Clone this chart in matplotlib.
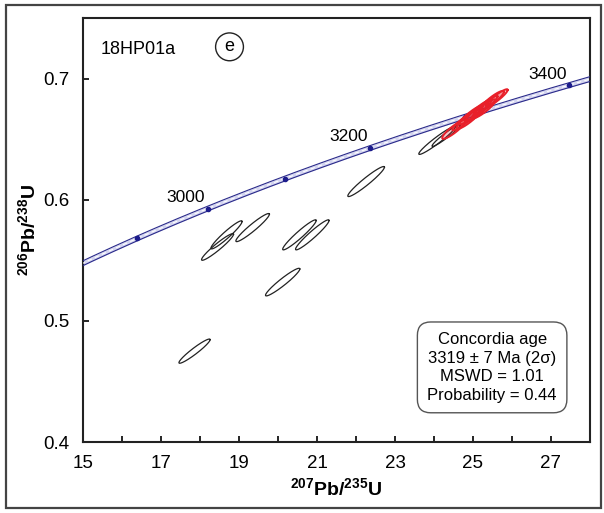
import numpy as np
import matplotlib.pyplot as plt
from matplotlib.patches import Rectangle

plt.rcParams['font.family'] = ['Liberation Sans', 'DejaVu Sans']
plt.rcParams['mathtext.default'] = 'regular'

# decay constants (1/yr) for the concordia curve
lam238 = 1.55125e-10
lam235 = 9.8485e-10
age_ticks = [2900, 3000, 3100, 3200, 3300, 3400]
age_labels = [3000, 3200, 3400]

# discordant analyses (black): 207Pb/235U, half-width, 206Pb/238U, half-height, rho
blk_x = [22.26, 18.68, 18.45, 19.35, 20.55, 20.88, 20.12, 17.86, 24.08, 24.31]
blk_dx = [0.47, 0.40, 0.41, 0.43, 0.43, 0.43, 0.44, 0.40, 0.47, 0.36]
blk_y = [0.615, 0.571, 0.561, 0.577, 0.571, 0.571, 0.532, 0.475, 0.649, 0.653]
blk_dy = [0.0124, 0.0116, 0.011, 0.0116, 0.0124, 0.0124, 0.0114, 0.010, 0.0116, 0.009]
blk_rho = [0.955, 0.95, 0.95, 0.95, 0.955, 0.955, 0.95, 0.95, 0.96, 0.96]

# concordant analyses (red)
red_x = [24.51, 24.77, 24.90, 24.95, 25.10, 25.15, 25.28, 25.33, 25.49, 25.61]
red_dx = [0.30, 0.30, 0.32, 0.30, 0.30, 0.32, 0.30, 0.30, 0.30, 0.28]
red_y = [0.658, 0.665, 0.667, 0.670, 0.672, 0.674, 0.675, 0.678, 0.682, 0.684]
red_dy = [0.0078, 0.0078, 0.0085, 0.0078, 0.0078, 0.0085, 0.0078, 0.0078, 0.0078, 0.0072]
red_rho = [0.90, 0.92, 0.90, 0.92, 0.90, 0.92, 0.90, 0.92, 0.90, 0.92]

box_lines = ["Concordia age", "3319 \u00b1 7 Ma (2\u03c3)", "MSWD = 1.01", "Probability = 0.44"]


def conc(t_ma):
    t = np.asarray(t_ma) * 1e6
    return np.exp(lam235 * t) - 1, np.exp(lam238 * t) - 1


def ell_xy(cx, dx, cy, dy, rho):
    th = np.linspace(0, 2 * np.pi, 200)
    xs = cx + dx * np.cos(th)
    ys = cy + dy * (rho * np.cos(th) + np.sqrt(1 - rho ** 2) * np.sin(th))
    return xs, ys


fig = plt.figure(figsize=(6.04, 5.13), dpi=100)
fig.patches.append(Rectangle((0.010, 0.010), 0.985, 0.980, transform=fig.transFigure,
                             fill=False, ec='#444444', lw=1.6))
ax = fig.add_axes([0.1374, 0.1384, 0.8394, 0.8265])

# concordia band
t = np.linspace(2800, 3430, 400)
cx, cy = conc(t)
w = 0.002
ax.fill_between(cx, cy - w, cy + w, color='#d4d5f0', lw=0, zorder=2)
ax.plot(cx, cy - w, color='#2a2a8a', lw=0.8, zorder=3)
ax.plot(cx, cy + w, color='#2a2a8a', lw=0.8, zorder=3)
ax.plot(cx, cy, color='white', lw=0.8, ls=(0, (4, 3)), zorder=3)
mx, my = conc(age_ticks)
ax.plot(mx, my, 'o', color='#1c1c8c', ms=3, zorder=4)
lx, ly = conc(age_labels)
for a, x, y in zip(age_labels, lx, ly):
    ax.text(x - 0.55, y + 0.003, str(a), fontsize=12.5, ha='center', va='bottom')

for i in range(len(blk_x)):
    xs, ys = ell_xy(blk_x[i], blk_dx[i], blk_y[i], blk_dy[i], blk_rho[i])
    ax.plot(xs, ys, color='#222222', lw=0.9, zorder=5)
for i in range(len(red_x)):
    xs, ys = ell_xy(red_x[i], red_dx[i], red_y[i], red_dy[i], red_rho[i])
    ax.fill(xs, ys, color='#e8202a', alpha=0.25, lw=0, zorder=6)
    ax.plot(xs, ys, color='#e8202a', lw=1.4, zorder=6)

ax.set_xlim(15, 28)
ax.set_ylim(0.4, 0.75)
ax.set_xticks(np.arange(15, 28, 1))
ax.set_xticklabels([str(v) if v % 2 == 1 else '' for v in range(15, 28)])
ax.set_yticks([0.4, 0.5, 0.6, 0.7])
ax.set_yticklabels(['0.4', '0.5', '0.6', '0.7'])
ax.tick_params(direction='in', length=4, width=1.2, labelsize=13.5, pad=10)
ax.tick_params(axis='x', pad=9)
for s in ax.spines.values():
    s.set_linewidth(1.5)
    s.set_color('#222222')

ax.set_xlabel(r'$^{207}$Pb/$^{235}$U', fontsize=14, fontweight='bold', labelpad=4)
ax.set_ylabel(r'$^{206}$Pb/$^{238}$U', fontsize=14, fontweight='bold', labelpad=3)

ax.text(0.035, 0.925, '18HP01a', transform=ax.transAxes, fontsize=13, va='center')
ax.text(0.289, 0.932, 'e', transform=ax.transAxes, fontsize=13, ha='center', va='center',
        bbox=dict(boxstyle='circle,pad=0.3', fc='white', ec='#222222', lw=1.0))

ax.text(0.807, 0.176, '\n'.join(box_lines), transform=ax.transAxes, fontsize=12,
        ha='center', va='center', linespacing=1.3,
        bbox=dict(boxstyle='round,pad=0.6,rounding_size=0.8', fc='white', ec='#555555', lw=1.0))

fig.savefig('out.png', dpi=100)
